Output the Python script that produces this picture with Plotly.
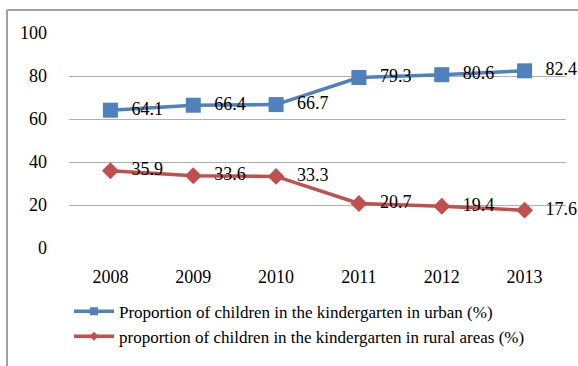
import plotly.graph_objects as go

years = ["2008", "2009", "2010", "2011", "2012", "2013"]
urban = [64.1, 66.4, 66.7, 79.3, 80.6, 82.4]
rural = [35.9, 33.6, 33.3, 20.7, 19.4, 17.6]
urban_name = "Proportion of children in the kindergarten in urban (%)"
rural_name = "proportion of children in the kindergarten in rural areas (%)"

BLUE = "#4F81BD"
RED = "#C0504D"
FONT = "Times New Roman"

fig = go.Figure()
fig.add_trace(go.Scatter(
    x=years, y=urban, name=urban_name, mode="lines+markers", showlegend=False,
    line=dict(color=BLUE, width=3.5),
    marker=dict(symbol="square", size=15, color=BLUE),
))
fig.add_trace(go.Scatter(
    x=years, y=rural, name=rural_name, mode="lines+markers", showlegend=False,
    line=dict(color=RED, width=3.5),
    marker=dict(symbol="diamond", size=13, color=RED),
))
for vals in (urban, rural):
    fig.add_trace(go.Scatter(
        x=years, y=vals, mode="markers+text", showlegend=False,
        text=[f"{v:.1f}" for v in vals], textposition="middle right",
        marker=dict(size=32, opacity=0), cliponaxis=False,
        textfont=dict(family=FONT, size=18, color="black"),
        hoverinfo="skip",
    ))
fig.add_trace(go.Scatter(
    x=[None], y=[None], name=urban_name, mode="lines+markers",
    line=dict(color=BLUE, width=3.5),
    marker=dict(symbol="square", size=8, color=BLUE),
))
fig.add_trace(go.Scatter(
    x=[None], y=[None], name=rural_name, mode="lines+markers",
    line=dict(color=RED, width=3.5),
    marker=dict(symbol="diamond", size=7, color=RED),
))

fig.update_layout(
    width=578, height=366,
    margin=dict(l=69, r=12, t=33, b=118, autoexpand=False),
    paper_bgcolor="white", plot_bgcolor="white",
    font=dict(family=FONT, size=18, color="black"),
    showlegend=True,
    legend=dict(
        x=0.0, y=-0.212, xanchor="left", yanchor="top",
        font=dict(family=FONT, size=17, color="black"),
        tracegroupgap=0, itemwidth=40, bgcolor="rgba(0,0,0,0)",
    ),
    xaxis=dict(
        type="category", range=[-0.5, 5.5], showgrid=False,
        showline=False, zeroline=False, ticks="",
        tickfont=dict(family=FONT, size=18, color="black"),
        ticklabelstandoff=16,
    ),
    yaxis=dict(
        range=[0, 100], dtick=20, showgrid=True, gridcolor="#B0B0B0",
        gridwidth=1, zeroline=False, showline=False, ticks="",
        tickfont=dict(family=FONT, size=18, color="black"),
        ticklabelstandoff=21,
    ),
    shapes=[
        dict(type="line", xref="paper", yref="paper",
             x0=(7 - 69) / 497, x1=1.05, y0=(248 - 10) / 215, y1=(248 - 10) / 215,
             line=dict(color="#A0A0A0", width=2)),
        dict(type="line", xref="paper", yref="paper",
             x0=(7 - 69) / 497, x1=(7 - 69) / 497, y0=(248 - 10) / 215, y1=-0.6,
             line=dict(color="#A0A0A0", width=2)),
    ],
)

fig.write_html("out.html")
